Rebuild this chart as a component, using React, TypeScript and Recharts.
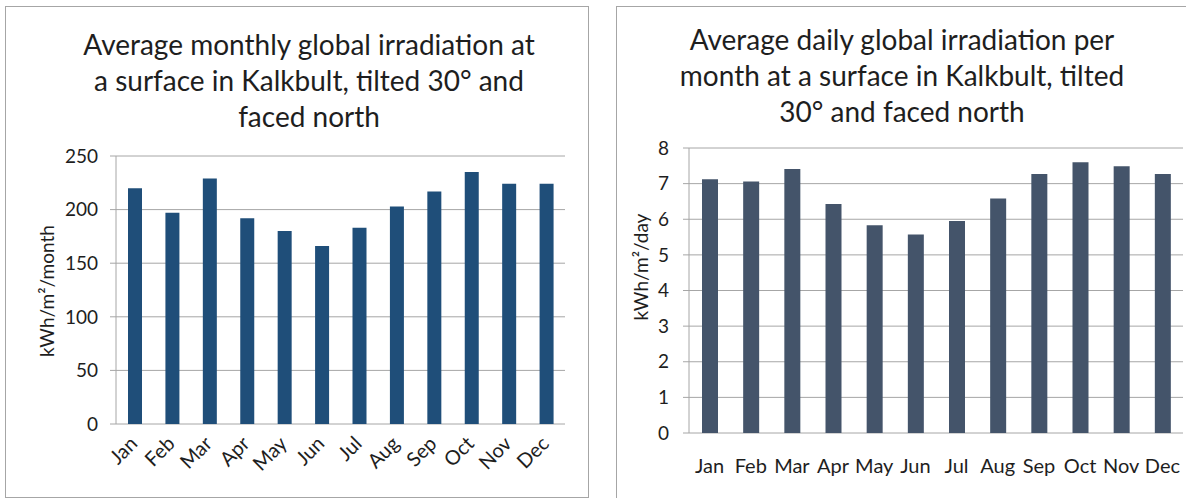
import React from 'react';
import { BarChart, Bar, XAxis, YAxis, CartesianGrid } from 'recharts';

const months = ['Jan', 'Feb', 'Mar', 'Apr', 'May', 'Jun', 'Jul', 'Aug', 'Sep', 'Oct', 'Nov', 'Dec'];

// kWh/m²/month
const monthlyIrradiation = [220, 197, 229, 192, 180, 166, 183, 203, 217, 235, 224, 224];
const monthlyTicks = [0, 50, 100, 150, 200, 250];

// kWh/m²/day
const dailyIrradiation = [7.12, 7.06, 7.41, 6.43, 5.83, 5.57, 5.95, 6.58, 7.27, 7.6, 7.49, 7.27];
const dailyTicks = [0, 1, 2, 3, 4, 5, 6, 7, 8];

// tick marks sit on the category boundaries, not under the bars
const edgeTicks = months.map((_, i) => i).concat(months.length);

const monthlyData = months.map((month, i) => ({ month, value: monthlyIrradiation[i] }));
const dailyData = months.map((month, i) => ({ month, value: dailyIrradiation[i] }));

const FONT = 'Lato, "Open Sans", sans-serif';
const TEXT = '#1e1e1e';
const GRID = '#a6a6a6';

const SlantTick = (props: any) => {
  const { x, y, payload } = props;
  const ax = x - 1;
  return (
    <text
      x={ax}
      y={y}
      dy="0.35em"
      transform={`rotate(-45, ${ax}, ${y})`}
      textAnchor="end"
      fill={TEXT}
      fontSize={20}
      fontFamily={FONT}
    >
      {payload.value}
    </text>
  );
};

const titleStyle: React.CSSProperties = {
  position: 'absolute',
  textAlign: 'center',
  fontFamily: FONT,
  fontSize: 28,
  lineHeight: '36px',
  color: TEXT,
  whiteSpace: 'nowrap',
};

const axisTitleStyle: React.CSSProperties = {
  position: 'absolute',
  fontFamily: FONT,
  fontSize: 19,
  color: TEXT,
  whiteSpace: 'nowrap',
  transform: 'translate(-50%, -50%) rotate(-90deg)',
};

const frameStyle: React.CSSProperties = {
  position: 'absolute',
  boxSizing: 'border-box',
  border: `1px solid ${GRID}`,
  background: '#fff',
};

export default function App() {
  return (
    <div style={{ position: 'absolute', left: 0, top: 0, width: 1186, height: 498, background: '#fff', overflow: 'hidden' }}>
      {/* monthly totals */}
      <div style={{ ...frameStyle, left: 5, top: 6, width: 584, height: 492 }}>
        <BarChart
          width={582}
          height={490}
          data={monthlyData}
          margin={{ top: 149, right: 23, left: 50, bottom: 13 }}
        >
          <CartesianGrid xAxisId="months" vertical={false} stroke={GRID} />
          <XAxis
            xAxisId="edges"
            type="number"
            domain={[0, months.length]}
            ticks={edgeTicks}
            tick={false}
            tickSize={6}
            tickLine={{ stroke: GRID }}
            axisLine={{ stroke: GRID }}
            height={0}
          />
          <XAxis
            xAxisId="months"
            dataKey="month"
            interval={0}
            axisLine={false}
            tickLine={false}
            tickSize={0}
            tickMargin={16}
            height={60}
            tick={<SlantTick />}
          />
          <YAxis
            width={60}
            domain={[0, 250]}
            ticks={monthlyTicks}
            interval={0}
            tickSize={6}
            tickMargin={12}
            tickLine={{ stroke: GRID }}
            axisLine={{ stroke: GRID }}
            tick={{ fill: TEXT, fontSize: 19, fontFamily: FONT }}
          />
          <Bar xAxisId="months" dataKey="value" fill="#1f4e79" barSize={14} isAnimationActive={false} />
        </BarChart>
        <div style={{ ...titleStyle, left: 0, width: 606, top: 19 }}>
          Average monthly global irradiation at
          <br />
          a surface in Kalkbult, tilted 30° and
          <br />
          faced north
        </div>
        <div style={{ ...axisTitleStyle, left: 40, top: 284 }}>kWh/m²/month</div>
      </div>

      {/* daily averages */}
      <div style={{ ...frameStyle, left: 616, top: 6, width: 600, height: 500 }}>
        <BarChart
          width={569}
          height={491}
          data={dailyData}
          margin={{ top: 141, right: 3, left: 22, bottom: 25 }}
        >
          <CartesianGrid xAxisId="months" vertical={false} stroke={GRID} />
          <XAxis
            xAxisId="edges"
            type="number"
            domain={[0, months.length]}
            ticks={edgeTicks}
            tick={false}
            tickSize={6}
            tickLine={{ stroke: GRID }}
            axisLine={{ stroke: GRID }}
            height={0}
          />
          <XAxis
            xAxisId="months"
            dataKey="month"
            interval={0}
            axisLine={false}
            tickLine={false}
            tickSize={0}
            tickMargin={26}
            height={40}
            tick={{ fill: TEXT, fontSize: 20, fontFamily: FONT }}
          />
          <YAxis
            width={50}
            domain={[0, 8]}
            ticks={dailyTicks}
            interval={0}
            tickSize={6}
            tickMargin={14}
            tickLine={{ stroke: GRID }}
            axisLine={{ stroke: GRID }}
            tick={{ fill: TEXT, fontSize: 19, fontFamily: FONT }}
          />
          <Bar xAxisId="months" dataKey="value" fill="#44546a" barSize={16} isAnimationActive={false} />
        </BarChart>
        <div style={{ ...titleStyle, left: 0, width: 570, top: 14 }}>
          Average daily global irradiation per
          <br />
          month at a surface in Kalkbult, tilted
          <br />
          30° and faced north
        </div>
        <div style={{ ...axisTitleStyle, left: 23, top: 260 }}>kWh/m²/day</div>
      </div>
    </div>
  );
}
